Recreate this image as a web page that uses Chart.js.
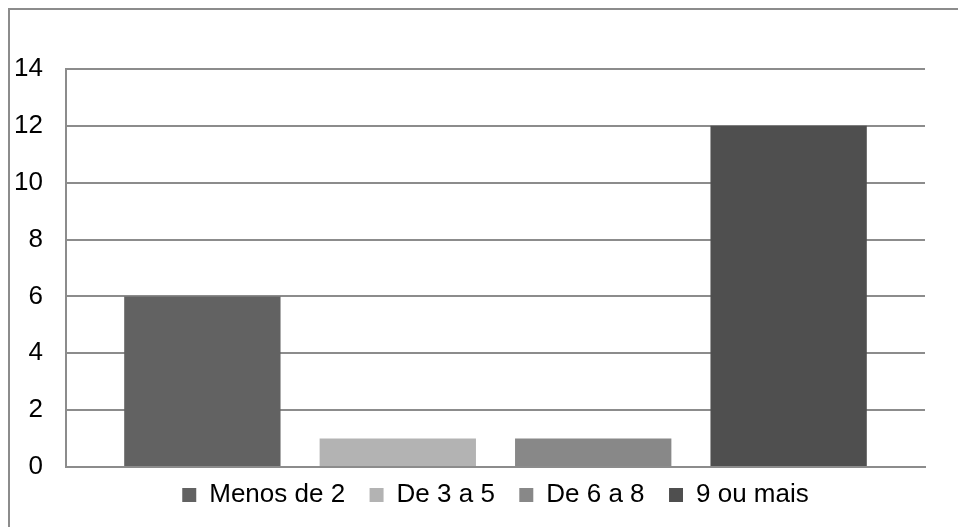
<!DOCTYPE html>
<html>
<head>
<meta charset="utf-8">
<script src="https://cdn.jsdelivr.net/npm/chart.js@4/dist/chart.umd.min.js"></script>
<style>
  html, body { margin: 0; padding: 0; background: #fff; }
  #wrap { width: 958px; height: 527px; position: relative; }
</style>
</head>
<body>
<div id="wrap"><canvas id="chartBars"></canvas></div>
<script>
// data
const seriesNames  = ['Menos de 2', 'De 3 a 5', 'De 6 a 8', '9 ou mais']
const seriesValues = [6, 1, 1, 12]
const seriesColors = ['#626262', '#b3b3b3', '#888888', '#4f4f4f']
const categories   = ['']
const yTicks       = [0, 2, 4, 6, 8, 10, 12, 14]

const fontFamily = '"Liberation Sans", Arial, sans-serif'
const gridColor = '#8c8c8c'

// outer frame of the chart (only left and top edges are visible in the crop)
const framePlugin = {
    id: 'frame',
    beforeDraw: chart => {
        const ctx = chart.ctx
        ctx.save()
        ctx.strokeStyle = gridColor
        ctx.lineWidth = 2
        ctx.beginPath()
        ctx.moveTo(9, chart.height + 5)
        ctx.lineTo(9, 9)
        ctx.lineTo(chart.width + 5, 9)
        ctx.stroke()
        ctx.restore()
    }
}

const datasets = seriesNames.map((name, i) => ({
    label: name,
    data: [seriesValues[i]],
    backgroundColor: seriesColors[i],
    borderWidth: 0,
    categoryPercentage: 0.91,
    barPercentage: 0.8
}))

new Chart(document.getElementById('chartBars'), {
    type: 'bar',
    data: { labels: categories, datasets },
    plugins: [framePlugin],
    options: {
        responsive: true,
        maintainAspectRatio: false,
        animation: false,
        layout: { padding: { top: 69, right: 33, bottom: 9, left: 0 } },
        scales: {
            x: {
                grid: { display: false },
                border: { display: true, color: gridColor, width: 2 },
                ticks: { display: false },
                afterFit: s => { s.height = 5 }
            },
            y: {
                min: 0,
                max: 14,
                afterBuildTicks: s => { s.ticks = yTicks.map(v => ({ value: v })) },
                afterFit: s => { s.width = 66 },
                grid: { color: gridColor, lineWidth: 2, drawTicks: false },
                border: { display: true, color: gridColor, width: 2 },
                ticks: {
                    color: '#000',
                    padding: 23,
                    font: { family: fontFamily, size: 26 }
                }
            }
        },
        plugins: {
            tooltip: { enabled: false },
            legend: {
                position: 'bottom',
                fullSize: false,
                labels: {
                    color: '#000',
                    boxWidth: 14,
                    boxHeight: 14,
                    padding: 10,
                    font: { family: fontFamily, size: 26 },
                    // extra room between items like the original legend
                    generateLabels: chart => Chart.defaults.plugins.legend.labels.generateLabels(chart)
                        .map((l, i, a) => ({ ...l, text: i < a.length - 1 ? l.text + '  ' : l.text }))
                }
            }
        }
    }
})
</script>
</body>
</html>
